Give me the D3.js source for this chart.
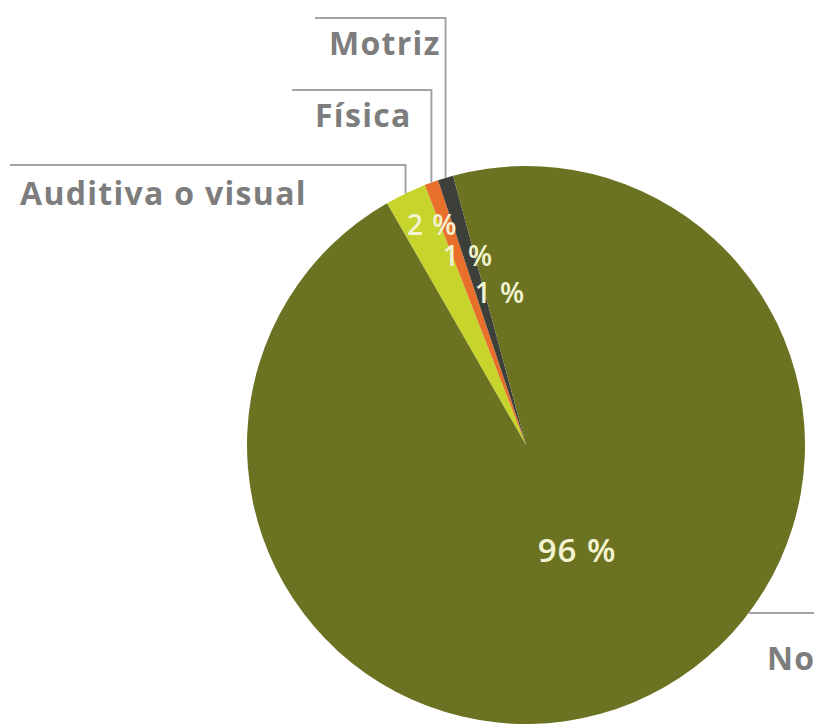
<!DOCTYPE html>
<html>
<head>
<meta charset="utf-8">
<script src="https://cdn.jsdelivr.net/npm/d3@7"></script>
<style>
  html, body { margin: 0; padding: 0; background: #fff; }
</style>
</head>
<body>
<div id="chart"></div>
<script>
// datos
var categories = ["Auditiva o visual", "Física", "Motriz", "No"];
var values = [2.4, 0.8, 0.9, 95.9];
var percentLabels = ["2 %", "1 %", "1 %", "96 %"];
var colors = ["#c6d42b", "#e8702c", "#3d3f3a", "#6b7322"];

var width = 814, height = 726;
var cx = 526, cy = 445, radius = 279;
var startDeg = -29.9;

// layout of the inner percent labels
var pctRadius = [239, 198, 154, 117];
var pctShift = [2.45, 2.76, 7.06, -3.38];
var pctSize = [28, 28, 28, 33];

// layout of the outer labels (elbow leader lines)
var outer = [
    {lineY: 165, lineLeft: 10, textX: 20, textY: 205},
    {lineY: 90, lineLeft: 292, textX: 315, textY: 127},
    {lineY: 18, lineLeft: 315, textX: 329, textY: 55},
    {lineY: 613, textX: 767, textY: 670}
];

var svg = d3.select("#chart").append("svg")
    .attr("width", width)
    .attr("height", height)
    .attr("xmlns", "http://www.w3.org/2000/svg");

var rad = Math.PI / 180;
var pie = d3.pie()
    .sort(null)
    .value(function(d){ return d; })
    .startAngle(startDeg * rad)
    .endAngle(startDeg * rad + 2 * Math.PI);

var arcs = pie(values);

var arc = d3.arc().innerRadius(0).outerRadius(radius);

var g = svg.append("g")
    .attr("transform", "translate(" + cx + "," + cy + ")");

g.selectAll("path.slice")
    .data(arcs)
    .enter().append("path")
    .attr("class", "slice")
    .attr("d", arc)
    .style("fill", function(d, i){ return colors[i]; });

// percent labels inside
g.selectAll("text.pct")
    .data(arcs)
    .enter().append("text")
    .attr("class", "pct")
    .attr("transform", function(d, i){
        var a = (d.startAngle + d.endAngle) / 2 + pctShift[i] * rad;
        var r = pctRadius[i];
        var p = d3.arc().innerRadius(r).outerRadius(r).startAngle(a).endAngle(a).centroid();
        return "translate(" + p[0] + "," + p[1] + ")";
    })
    .attr("dy", "0.36em")
    .attr("text-anchor", "middle")
    .style("font-family", "'Open Sans', sans-serif")
    .style("font-size", function(d, i){ return pctSize[i] + "px"; })
    .style("font-weight", "600")
    .style("letter-spacing", "1px")
    .style("fill", "#f3f3d2")
    .text(function(d, i){ return percentLabels[i]; });

// leader lines + outer labels
var lineColor = "#a3a3a3";
arcs.forEach(function(d, i){
    var o = outer[i];
    if (i < 3) {
        var a = (d.startAngle + d.endAngle) / 2;
        var x = radius * Math.sin(a);
        var yEdge = -Math.sqrt(radius * radius - x * x);
        svg.append("polyline")
            .attr("points", [
                [cx + x, cy + yEdge],
                [cx + x, o.lineY],
                [o.lineLeft, o.lineY]
            ].map(function(p){ return p.join(","); }).join(" "))
            .style("fill", "none")
            .style("stroke", lineColor)
            .style("stroke-width", 2);
    } else {
        var dy = o.lineY - cy;
        var xEdge = cx + Math.sqrt(radius * radius - dy * dy);
        svg.append("line")
            .attr("x1", xEdge)
            .attr("y1", o.lineY)
            .attr("x2", width)
            .attr("y2", o.lineY)
            .style("stroke", lineColor)
            .style("stroke-width", 2);
    }
    svg.append("text")
        .attr("x", o.textX)
        .attr("y", o.textY)
        .style("font-family", "'Open Sans', sans-serif")
        .style("font-size", "32px")
        .style("font-weight", "bold")
        .style("letter-spacing", "1.3px")
        .style("fill", "#7d7d7d")
        .text(categories[i]);
});
</script>
</body>
</html>
